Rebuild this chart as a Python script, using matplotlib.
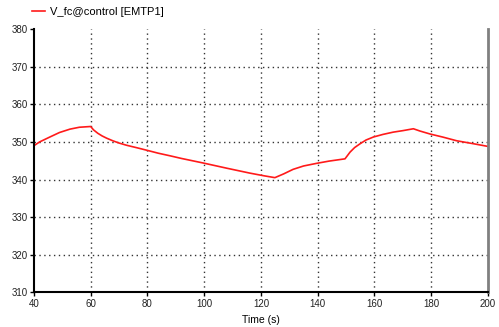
import matplotlib
matplotlib.use("Agg")
import matplotlib.pyplot as plt

# Values
time_s = [40, 42, 45.6, 49, 52.7, 56, 60, 61, 62.5, 64, 65.6, 67.8, 70, 72.7,
          76, 79.7, 83.8, 88, 92, 99.6, 108, 116.1, 121, 124.9, 128, 131.3,
          135, 139.6, 144, 149.6, 150.5, 151.4, 153, 154.9, 157, 159.6, 163,
          166.6, 170, 173.7, 176, 179.6, 184, 189, 195, 200]
v_fc = [349.0, 350.0, 351.3, 352.5, 353.4, 353.9, 354.1, 353.2, 352.3, 351.6,
        351.0, 350.3, 349.7, 349.1, 348.5, 347.8, 347.0, 346.3, 345.6, 344.4,
        343.0, 341.7, 341.0, 340.5, 341.5, 342.7, 343.6, 344.3, 344.9, 345.5,
        346.4, 347.3, 348.5, 349.5, 350.5, 351.3, 352.0, 352.6, 353.0, 353.5,
        352.9, 352.1, 351.3, 350.3, 349.5, 348.8]

x_ticks = [40, 60, 80, 100, 120, 140, 160, 180, 200]
y_ticks = [310, 320, 330, 340, 350, 360, 370, 380]

plt.rcParams["font.family"] = ["Liberation Sans", "DejaVu Sans"]

fig = plt.figure(figsize=(4.99, 3.27), dpi=100)
ax = fig.add_axes([0.068, 0.106, 0.910, 0.805])

line, = ax.plot(time_s, v_fc, color="#ff1a1a", lw=1.2, label="V_fc@control [EMTP1]")

ax.set_xlim(40, 200)
ax.set_ylim(310, 380)
ax.set_xticks(x_ticks)
ax.set_yticks(y_ticks)
ax.tick_params(labelsize=7, length=3, width=1, direction="out", pad=1.5,
               labelcolor="#222222")

# dotted grid, skipping the frame edges
for x in x_ticks[1:-1]:
    ax.axvline(x, color="#333333", lw=1, ls=(0, (1, 2.5)), zorder=0)
for y in y_ticks[1:-1]:
    ax.axhline(y, color="#333333", lw=1, ls=(0, (1, 2.5)), zorder=0)

ax.spines["top"].set_visible(False)
ax.spines["left"].set_linewidth(1.5)
ax.spines["bottom"].set_linewidth(1.5)
ax.spines["right"].set_linewidth(2)
ax.spines["right"].set_color("#808080")

ax.set_xlabel("Time (s)", fontsize=7.5)
ax.xaxis.set_label_coords(0.5, -0.085)

fig.legend(handles=[line], loc="upper left", bbox_to_anchor=(0.045, 1.01),
           frameon=False, fontsize=8, handlelength=1.1, handletextpad=0.5)

fig.savefig("out.png", dpi=100)
